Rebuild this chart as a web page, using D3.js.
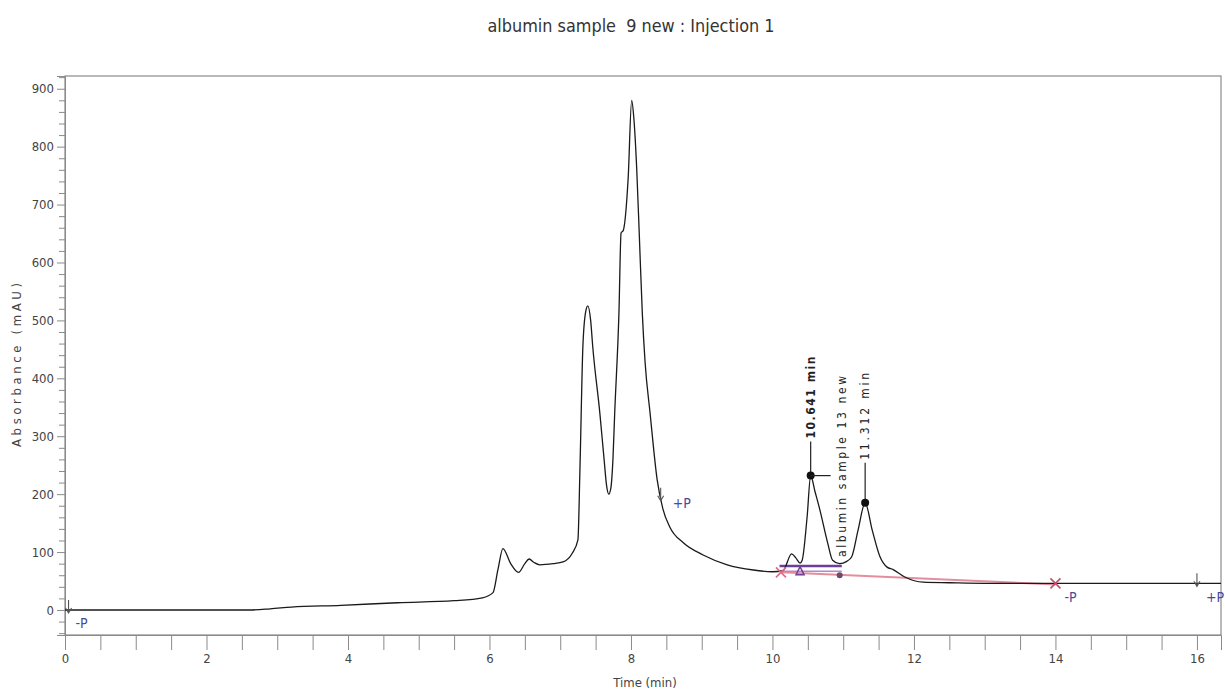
<!DOCTYPE html>
<html>
<head>
<meta charset="utf-8">
<script src="https://cdn.jsdelivr.net/npm/d3@7/dist/d3.min.js"></script>
<style>
  html, body { margin: 0; padding: 0; background: #fff; }
  svg { display: block; }
  text { font-family: "Liberation Sans Narrow", "Arial Narrow", "DejaVu Sans Condensed", "Liberation Sans", sans-serif; }
</style>
</head>
<body>
<svg id="chart" width="1225" height="694"></svg>
<script>
// ---- data ----
const title = "albumin sample  9 new : Injection 1";
const xLabel = "Time (min)";
const yLabel = "Absorbance (mAU)";
const xTickLabels = [0, 2, 4, 6, 8, 10, 12, 14, 16];
const yTickLabels = [0, 100, 200, 300, 400, 500, 600, 700, 800, 900];

const times = [0, 1, 2, 2.6, 2.9, 3.2, 3.9, 4.7, 5.5, 5.9, 6.05, 6.12, 6.19, 6.3, 6.41, 6.5, 6.56, 6.63, 6.71, 6.9,
  7.04, 7.17, 7.25, 7.28, 7.32, 7.36, 7.39, 7.43, 7.46, 7.56, 7.62, 7.655, 7.685, 7.715, 7.745, 7.77, 7.83, 7.86, 7.89, 7.96, 8.01,
  8.04, 8.08, 8.12, 8.16, 8.2, 8.27, 8.37, 8.45, 8.55, 8.74, 9.02, 9.36, 9.73, 10.0, 10.15, 10.27, 10.33, 10.39,
  10.42, 10.49, 10.54, 10.6, 10.67, 10.78, 10.85, 10.95, 11.05, 11.12, 11.21, 11.31, 11.41, 11.52, 11.62, 11.7,
  11.87, 12.13, 12.5, 13, 14, 15, 16, 16.34];
const absorbance = [0, 0, 0, 0, 2, 5, 8, 12.5, 16, 21, 30, 70, 106, 80, 65, 80, 88, 82, 78, 80,
  83, 98, 121, 250, 454, 515, 525, 500, 454, 340, 260, 215, 200, 210, 260, 340, 513, 651, 655, 745, 880,
  850, 765, 640, 513, 427, 340, 225, 175, 143, 116, 95, 78, 69, 66, 68, 97, 90, 81,
  86, 161, 232, 205, 173, 116, 86, 80, 84, 92, 138, 185, 138, 92, 74, 70,
  57, 48, 47, 46, 46, 46, 46, 46];

const peakTimes = [10.54, 11.31];
const peakValues = [232, 185];
const peakLabels = ["10.641 min", "11.312 min"];
const compoundName = "albumin sample 13 new";

const eventTimes = [0.05, 8.42, 14.0, 16.0];
const eventLabels = ["-P", "+P", "-P", "+P"];

const baselineTimes = [10.12, 14.0];
const baselineValues = [65, 44];
const integTimes = [10.1, 10.98];
const integValues = [76, 67];

// ---- chart ----
const svg = d3.select("#chart");
const x = d3.scaleLinear().domain([0, 16.34]).range([65, 1221]);
const y = d3.scaleLinear().domain([-43.2, 922]).range([635, 76]);
const axisColor = "#8a8a8a";
const textColor = "#444";

function valueAt(t) {
  const i = d3.bisectLeft(times, t);
  if (i <= 0) return absorbance[0];
  if (i >= times.length) return absorbance[absorbance.length - 1];
  const t0 = times[i - 1], t1 = times[i];
  const f = (t - t0) / (t1 - t0);
  return absorbance[i - 1] + f * (absorbance[i] - absorbance[i - 1]);
}

// Title
svg.append("text").attr("x", 631).attr("y", 32).attr("text-anchor", "middle")
  .style("white-space", "pre").attr("xml:space", "preserve")
  .attr("font-size", 18).attr("fill", "#333")
  .attr("textLength", 287).attr("lengthAdjust", "spacingAndGlyphs").text(title);

// frame
svg.append("rect").attr("x", x.range()[0]).attr("y", y.range()[1])
  .attr("width", x.range()[1] - x.range()[0]).attr("height", y.range()[0] - y.range()[1])
  .attr("fill", "none").attr("stroke", axisColor).attr("stroke-width", 1.2);

// Y axis: minor
const yMinor = d3.range(-40, 921, 20).filter(v => v % 100 !== 0);
svg.append("g").attr("transform", `translate(${x.range()[0]},0)`)
  .call(d3.axisLeft(y).tickValues(yMinor).tickSize(6).tickFormat(""))
  .call(g => g.select(".domain").remove())
  .selectAll("line").attr("stroke", axisColor);
const yAx = svg.append("g").attr("transform", `translate(${x.range()[0]},0)`)
  .call(d3.axisLeft(y).tickValues(yTickLabels).tickSize(8).tickPadding(3).tickFormat(d3.format("d")));
yAx.select(".domain").attr("stroke", axisColor);
yAx.selectAll("line").attr("stroke", axisColor);
yAx.selectAll("text").attr("font-size", 13).attr("fill", textColor);

// X axis
const xMinor = d3.range(0, 16.01, 0.5).filter(v => v % 2 !== 0);
svg.append("g").attr("transform", `translate(0,${y.range()[0]})`)
  .call(d3.axisBottom(x).tickValues(xMinor).tickSize(15).tickFormat(""))
  .call(g => g.select(".domain").remove())
  .selectAll("line").attr("stroke", axisColor);
const xAx = svg.append("g").attr("transform", `translate(0,${y.range()[0]})`)
  .call(d3.axisBottom(x).tickValues(xTickLabels).tickSize(15).tickPadding(4).tickFormat(d3.format("d")));
xAx.select(".domain").attr("stroke", axisColor);
xAx.selectAll("line").attr("stroke", axisColor);
xAx.selectAll("text").attr("font-size", 13).attr("fill", textColor);

// axis labels
svg.append("text").attr("x", 645).attr("y", 687).attr("text-anchor", "middle")
  .attr("font-size", 13).attr("fill", textColor).text(xLabel);
svg.append("text").attr("transform", "translate(21,365) rotate(-90)").attr("text-anchor", "middle")
  .attr("font-size", 13).attr("fill", textColor)
  .attr("textLength", 164).attr("lengthAdjust", "spacing").text(yLabel);

// baseline (pink) and integration (purple)
svg.append("line")
  .attr("x1", x(baselineTimes[0])).attr("y1", y(baselineValues[0]))
  .attr("x2", x(baselineTimes[1])).attr("y2", y(baselineValues[1]))
  .attr("stroke", "#e07a8e").attr("stroke-width", 2).attr("opacity", 0.85);
svg.append("line")
  .attr("x1", x(integTimes[0])).attr("y1", y(integValues[0]))
  .attr("x2", x(integTimes[1])).attr("y2", y(integValues[0]))
  .attr("stroke", "#6b3f9a").attr("stroke-width", 2.5);
svg.append("line")
  .attr("x1", x(integTimes[0])).attr("y1", y(integValues[1]))
  .attr("x2", x(integTimes[1])).attr("y2", y(integValues[1]))
  .attr("stroke", "#b58ac9").attr("stroke-width", 1.5);

// trace
const line = d3.line().x((d, i) => x(times[i])).y(d => y(d)).curve(d3.curveMonotoneX);
svg.append("path").datum(absorbance).attr("d", line)
  .attr("fill", "none").attr("stroke", "#1a1a1a").attr("stroke-width", 1.3);

// integration markers
function cross(cx, cy, r, color) {
  svg.append("path").attr("d", `M${cx - r},${cy - r}L${cx + r},${cy + r}M${cx - r},${cy + r}L${cx + r},${cy - r}`)
    .attr("stroke", color).attr("stroke-width", 1.6).attr("fill", "none");
}
cross(x(baselineTimes[0]), y(baselineValues[0]), 5, "#e06a85");
cross(x(baselineTimes[1]), y(valueAt(baselineTimes[1])), 5, "#c0506a");
svg.append("path").attr("d", `M${x(10.39) - 4},${y(66) + 3}L${x(10.39)},${y(66) - 5}L${x(10.39) + 4},${y(66) + 3}Z`)
  .attr("fill", "none").attr("stroke", "#6b3f9a").attr("stroke-width", 1.5);
svg.append("circle").attr("cx", x(integTimes[1] - 0.03)).attr("cy", y(60)).attr("r", 3).attr("fill", "#6b4a6a");

// peak annotations
peakTimes.forEach((t, i) => {
  const px = x(t), py = y(peakValues[i]);
  const len = i === 0 ? 34 : 40;
  svg.append("line").attr("x1", px).attr("x2", px).attr("y1", py).attr("y2", py - len)
    .attr("stroke", "#222").attr("stroke-width", 1.2);
  svg.append("circle").attr("cx", px).attr("cy", py).attr("r", 4).attr("fill", "#111");
  svg.append("text").attr("transform", `translate(${px + 4},${py - len - 3}) rotate(-90)`)
    .attr("font-size", 12).attr("font-weight", i === 0 ? "bold" : "normal")
    .attr("fill", "#222").attr("textLength", i === 0 ? 82 : 87).attr("lengthAdjust", "spacing")
    .text(peakLabels[i]);
});
// compound name label
svg.append("line").attr("x1", x(peakTimes[0])).attr("x2", x(peakTimes[0]) + 20)
  .attr("y1", y(peakValues[0])).attr("y2", y(peakValues[0])).attr("stroke", "#222").attr("stroke-width", 1.2);
svg.append("text").attr("transform", `translate(${x(10.98) + 4},${y(valueAt(10.98)) - 6}) rotate(-90)`)
  .attr("font-size", 12).attr("fill", "#222").attr("textLength", 181).attr("lengthAdjust", "spacing")
  .text(compoundName);

// event markers (P)
eventTimes.forEach((t, i) => {
  const ex = x(t), ey = y(valueAt(t));
  if (i !== 2) {
    svg.append("path").attr("d", `M${ex},${ey - 10}L${ex},${ey + 3}M${ex - 3},${ey - 2}L${ex},${ey + 3}L${ex + 3},${ey - 2}`)
      .attr("stroke", "#555").attr("stroke-width", 1.1).attr("fill", "none");
  }
  const dx = i === 1 ? 12 : i === 0 ? 7 : 9;
  const dy = i === 1 ? 10 : i === 0 ? 18 : 19;
  svg.append("text").attr("x", ex + dx).attr("y", ey + dy)
    .attr("fill", "#4a4a9a")
    .attr("font-family", "'DejaVu Sans', sans-serif").attr("font-size", 14)
    .text(eventLabels[i]);
});
</script>
</body>
</html>
